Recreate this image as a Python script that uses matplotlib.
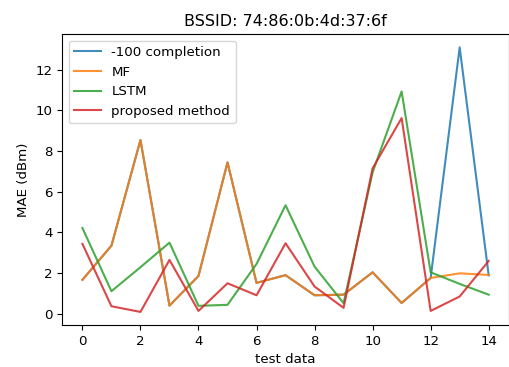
import numpy as np
import matplotlib
matplotlib.use('Agg')
import matplotlib.pyplot as plt

plt.rcParams['font.size'] = 9.6

x = np.arange(15)

completion = [1.66, 3.34, 8.54, 0.39, 1.85, 7.44, 1.51, 1.89, 0.90, 0.93,
              2.03, 0.52, 1.75, 13.1, 1.88]
mf = [1.66, 3.34, 8.54, 0.39, 1.85, 7.44, 1.51, 1.89, 0.90, 0.93,
      2.03, 0.52, 1.75, 1.98, 1.90]
lstm = [4.21, 1.10, 2.28, 3.49, 0.38, 0.43, 2.44, 5.33, 2.31, 0.51,
        6.95, 10.93, 2.03, 1.46, 0.93]
proposed = [3.43, 0.36, 0.08, 2.64, 0.13, 1.49, 0.90, 3.46, 1.33, 0.28,
            7.15, 9.62, 0.13, 0.84, 2.59]

fig = plt.figure(figsize=(5.09, 3.67), dpi=100)
fig.subplots_adjust(left=0.122, right=1.0, bottom=0.114, top=0.907)
ax = fig.add_subplot(111)

ax.plot(x, completion, label='-100 completion', alpha=0.85)
ax.plot(x, mf, label='MF', alpha=0.85)
ax.plot(x, lstm, label='LSTM', alpha=0.85)
ax.plot(x, proposed, label='proposed method', alpha=0.85)

ax.set_title('BSSID: 74:86:0b:4d:37:6f')
ax.set_xlabel('test data')
ax.set_ylabel('MAE (dBm)')
ax.set_xticks(range(0, 15, 2))
ax.legend(loc='upper left')

fig.savefig('out.png', dpi=100)
